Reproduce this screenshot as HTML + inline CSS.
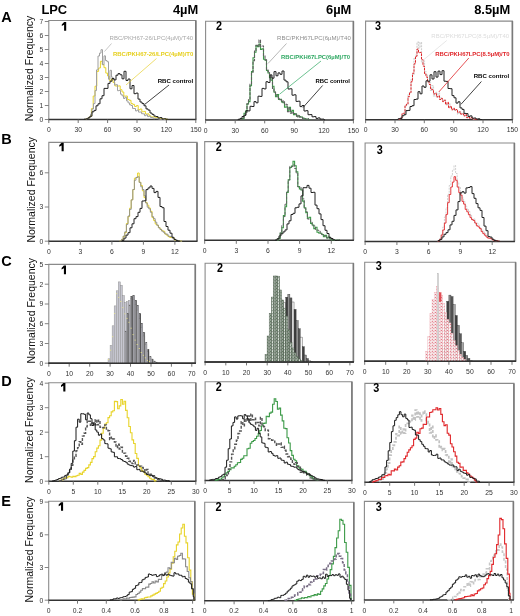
<!DOCTYPE html><html><head><meta charset="utf-8"><style>html,body{margin:0;padding:0;background:#fff;width:520px;height:616px;overflow:hidden}svg{display:block;filter:blur(0.3px)}</style></head><body><svg width="520" height="616" viewBox="0 0 520 616"><style>.tl{font-family:"Liberation Sans",sans-serif;font-size:6.8px;fill:#333}.yl{font-family:"Liberation Sans",sans-serif;font-size:10.5px;fill:#111}.rl{font-family:"Liberation Sans",sans-serif;font-size:14.5px;font-weight:bold;fill:#000}.pn{font-family:"Liberation Sans",sans-serif;font-size:13.6px;font-weight:bold;fill:#000}.lab{font-family:"Liberation Sans",sans-serif;font-size:6.05px}</style><rect width="520" height="616" fill="#fff"/><path d="M48.8,119.5 V20.5 H195.8 V119.5" fill="none" stroke="#8a8a8a" stroke-width="1.1"/><line x1="195.8" y1="20.5" x2="195.8" y2="119.5" stroke="#7a7a7a" stroke-width="1.6"/><line x1="48.3" y1="119.5" x2="196.3" y2="119.5" stroke="#333" stroke-width="1.5"/><line x1="48.8" y1="119.5" x2="48.8" y2="123.0" stroke="#666" stroke-width="0.9"/><text x="48.8" y="132.1" class="tl" text-anchor="middle">0</text><line x1="78.2" y1="119.5" x2="78.2" y2="123.0" stroke="#666" stroke-width="0.9"/><text x="78.2" y="132.1" class="tl" text-anchor="middle">30</text><line x1="107.6" y1="119.5" x2="107.6" y2="123.0" stroke="#666" stroke-width="0.9"/><text x="107.6" y="132.1" class="tl" text-anchor="middle">60</text><line x1="137.0" y1="119.5" x2="137.0" y2="123.0" stroke="#666" stroke-width="0.9"/><text x="137.0" y="132.1" class="tl" text-anchor="middle">90</text><line x1="166.4" y1="119.5" x2="166.4" y2="123.0" stroke="#666" stroke-width="0.9"/><text x="166.4" y="132.1" class="tl" text-anchor="middle">120</text><line x1="195.8" y1="119.5" x2="195.8" y2="123.0" stroke="#666" stroke-width="0.9"/><text x="195.8" y="132.1" class="tl" text-anchor="middle">150</text><line x1="44.8" y1="119.5" x2="48.8" y2="119.5" stroke="#777" stroke-width="0.9"/><text x="43.3" y="121.8" class="tl" text-anchor="end">0</text><line x1="44.8" y1="105.5" x2="48.8" y2="105.5" stroke="#777" stroke-width="0.9"/><text x="43.3" y="107.8" class="tl" text-anchor="end">1</text><line x1="44.8" y1="91.5" x2="48.8" y2="91.5" stroke="#777" stroke-width="0.9"/><text x="43.3" y="93.8" class="tl" text-anchor="end">2</text><line x1="44.8" y1="77.5" x2="48.8" y2="77.5" stroke="#777" stroke-width="0.9"/><text x="43.3" y="79.8" class="tl" text-anchor="end">3</text><line x1="44.8" y1="63.5" x2="48.8" y2="63.5" stroke="#777" stroke-width="0.9"/><text x="43.3" y="65.8" class="tl" text-anchor="end">4</text><line x1="44.8" y1="49.5" x2="48.8" y2="49.5" stroke="#777" stroke-width="0.9"/><text x="43.3" y="51.8" class="tl" text-anchor="end">5</text><line x1="44.8" y1="35.5" x2="48.8" y2="35.5" stroke="#777" stroke-width="0.9"/><text x="43.3" y="37.8" class="tl" text-anchor="end">6</text><line x1="44.8" y1="21.5" x2="48.8" y2="21.5" stroke="#777" stroke-width="0.9"/><text x="43.3" y="23.8" class="tl" text-anchor="end">7</text><path d="M205.6,119.9 V21.2 H353.4 V119.9" fill="none" stroke="#8a8a8a" stroke-width="1.1"/><line x1="353.4" y1="21.2" x2="353.4" y2="119.9" stroke="#7a7a7a" stroke-width="1.6"/><line x1="205.1" y1="119.9" x2="353.9" y2="119.9" stroke="#333" stroke-width="1.5"/><line x1="205.6" y1="119.9" x2="205.6" y2="123.4" stroke="#666" stroke-width="0.9"/><text x="205.6" y="132.5" class="tl" text-anchor="middle">0</text><line x1="235.2" y1="119.9" x2="235.2" y2="123.4" stroke="#666" stroke-width="0.9"/><text x="235.2" y="132.5" class="tl" text-anchor="middle">30</text><line x1="264.7" y1="119.9" x2="264.7" y2="123.4" stroke="#666" stroke-width="0.9"/><text x="264.7" y="132.5" class="tl" text-anchor="middle">60</text><line x1="294.3" y1="119.9" x2="294.3" y2="123.4" stroke="#666" stroke-width="0.9"/><text x="294.3" y="132.5" class="tl" text-anchor="middle">90</text><line x1="323.8" y1="119.9" x2="323.8" y2="123.4" stroke="#666" stroke-width="0.9"/><text x="323.8" y="132.5" class="tl" text-anchor="middle">120</text><line x1="353.4" y1="119.9" x2="353.4" y2="123.4" stroke="#666" stroke-width="0.9"/><text x="353.4" y="132.5" class="tl" text-anchor="middle">150</text><path d="M365.6,119.7 V21.1 H512.4 V119.7" fill="none" stroke="#8a8a8a" stroke-width="1.1"/><line x1="512.4" y1="21.1" x2="512.4" y2="119.7" stroke="#7a7a7a" stroke-width="1.6"/><line x1="365.1" y1="119.7" x2="512.9" y2="119.7" stroke="#333" stroke-width="1.5"/><line x1="365.6" y1="119.7" x2="365.6" y2="123.2" stroke="#666" stroke-width="0.9"/><text x="365.6" y="132.3" class="tl" text-anchor="middle">0</text><line x1="395.0" y1="119.7" x2="395.0" y2="123.2" stroke="#666" stroke-width="0.9"/><text x="395.0" y="132.3" class="tl" text-anchor="middle">30</text><line x1="424.3" y1="119.7" x2="424.3" y2="123.2" stroke="#666" stroke-width="0.9"/><text x="424.3" y="132.3" class="tl" text-anchor="middle">60</text><line x1="453.7" y1="119.7" x2="453.7" y2="123.2" stroke="#666" stroke-width="0.9"/><text x="453.7" y="132.3" class="tl" text-anchor="middle">90</text><line x1="483.0" y1="119.7" x2="483.0" y2="123.2" stroke="#666" stroke-width="0.9"/><text x="483.0" y="132.3" class="tl" text-anchor="middle">120</text><line x1="512.4" y1="119.7" x2="512.4" y2="123.2" stroke="#666" stroke-width="0.9"/><text x="512.4" y="132.3" class="tl" text-anchor="middle">150</text><path d="M48.8,241.2 V142.4 H197.0 V241.2" fill="none" stroke="#8a8a8a" stroke-width="1.1"/><line x1="197.0" y1="142.4" x2="197.0" y2="241.2" stroke="#7a7a7a" stroke-width="1.6"/><line x1="48.3" y1="241.2" x2="197.5" y2="241.2" stroke="#333" stroke-width="1.5"/><line x1="48.8" y1="241.2" x2="48.8" y2="244.7" stroke="#666" stroke-width="0.9"/><text x="48.8" y="253.8" class="tl" text-anchor="middle">0</text><line x1="80.3" y1="241.2" x2="80.3" y2="244.7" stroke="#666" stroke-width="0.9"/><text x="80.3" y="253.8" class="tl" text-anchor="middle">3</text><line x1="111.9" y1="241.2" x2="111.9" y2="244.7" stroke="#666" stroke-width="0.9"/><text x="111.9" y="253.8" class="tl" text-anchor="middle">6</text><line x1="143.4" y1="241.2" x2="143.4" y2="244.7" stroke="#666" stroke-width="0.9"/><text x="143.4" y="253.8" class="tl" text-anchor="middle">9</text><line x1="174.9" y1="241.2" x2="174.9" y2="244.7" stroke="#666" stroke-width="0.9"/><text x="174.9" y="253.8" class="tl" text-anchor="middle">12</text><line x1="44.8" y1="241.2" x2="48.8" y2="241.2" stroke="#777" stroke-width="0.9"/><text x="43.3" y="243.5" class="tl" text-anchor="end">0</text><line x1="44.8" y1="207.0" x2="48.8" y2="207.0" stroke="#777" stroke-width="0.9"/><text x="43.3" y="209.3" class="tl" text-anchor="end">3</text><line x1="44.8" y1="172.8" x2="48.8" y2="172.8" stroke="#777" stroke-width="0.9"/><text x="43.3" y="175.1" class="tl" text-anchor="end">6</text><path d="M204.7,240.3 V141.6 H353.4 V240.3" fill="none" stroke="#8a8a8a" stroke-width="1.1"/><line x1="353.4" y1="141.6" x2="353.4" y2="240.3" stroke="#7a7a7a" stroke-width="1.6"/><line x1="204.2" y1="240.3" x2="353.9" y2="240.3" stroke="#333" stroke-width="1.5"/><line x1="204.7" y1="240.3" x2="204.7" y2="243.8" stroke="#666" stroke-width="0.9"/><text x="204.7" y="252.9" class="tl" text-anchor="middle">0</text><line x1="236.3" y1="240.3" x2="236.3" y2="243.8" stroke="#666" stroke-width="0.9"/><text x="236.3" y="252.9" class="tl" text-anchor="middle">3</text><line x1="268.0" y1="240.3" x2="268.0" y2="243.8" stroke="#666" stroke-width="0.9"/><text x="268.0" y="252.9" class="tl" text-anchor="middle">6</text><line x1="299.6" y1="240.3" x2="299.6" y2="243.8" stroke="#666" stroke-width="0.9"/><text x="299.6" y="252.9" class="tl" text-anchor="middle">9</text><line x1="331.3" y1="240.3" x2="331.3" y2="243.8" stroke="#666" stroke-width="0.9"/><text x="331.3" y="252.9" class="tl" text-anchor="middle">12</text><path d="M365.1,241.5 V143.0 H514.4 V241.5" fill="none" stroke="#8a8a8a" stroke-width="1.1"/><line x1="514.4" y1="143.0" x2="514.4" y2="241.5" stroke="#7a7a7a" stroke-width="1.6"/><line x1="364.6" y1="241.5" x2="514.9" y2="241.5" stroke="#333" stroke-width="1.5"/><line x1="365.1" y1="241.5" x2="365.1" y2="245.0" stroke="#666" stroke-width="0.9"/><text x="365.1" y="254.1" class="tl" text-anchor="middle">0</text><line x1="396.9" y1="241.5" x2="396.9" y2="245.0" stroke="#666" stroke-width="0.9"/><text x="396.9" y="254.1" class="tl" text-anchor="middle">3</text><line x1="428.6" y1="241.5" x2="428.6" y2="245.0" stroke="#666" stroke-width="0.9"/><text x="428.6" y="254.1" class="tl" text-anchor="middle">6</text><line x1="460.4" y1="241.5" x2="460.4" y2="245.0" stroke="#666" stroke-width="0.9"/><text x="460.4" y="254.1" class="tl" text-anchor="middle">9</text><line x1="492.2" y1="241.5" x2="492.2" y2="245.0" stroke="#666" stroke-width="0.9"/><text x="492.2" y="254.1" class="tl" text-anchor="middle">12</text><path d="M48.8,363.2 V264.4 H195.3 V363.2" fill="none" stroke="#8a8a8a" stroke-width="1.1"/><line x1="195.3" y1="264.4" x2="195.3" y2="363.2" stroke="#7a7a7a" stroke-width="1.6"/><line x1="48.3" y1="363.2" x2="195.8" y2="363.2" stroke="#333" stroke-width="1.5"/><line x1="48.8" y1="363.2" x2="48.8" y2="366.7" stroke="#666" stroke-width="0.9"/><text x="48.8" y="375.8" class="tl" text-anchor="middle">0</text><line x1="69.2" y1="363.2" x2="69.2" y2="366.7" stroke="#666" stroke-width="0.9"/><text x="69.2" y="375.8" class="tl" text-anchor="middle">10</text><line x1="89.7" y1="363.2" x2="89.7" y2="366.7" stroke="#666" stroke-width="0.9"/><text x="89.7" y="375.8" class="tl" text-anchor="middle">20</text><line x1="110.1" y1="363.2" x2="110.1" y2="366.7" stroke="#666" stroke-width="0.9"/><text x="110.1" y="375.8" class="tl" text-anchor="middle">30</text><line x1="130.5" y1="363.2" x2="130.5" y2="366.7" stroke="#666" stroke-width="0.9"/><text x="130.5" y="375.8" class="tl" text-anchor="middle">40</text><line x1="151.0" y1="363.2" x2="151.0" y2="366.7" stroke="#666" stroke-width="0.9"/><text x="151.0" y="375.8" class="tl" text-anchor="middle">50</text><line x1="171.4" y1="363.2" x2="171.4" y2="366.7" stroke="#666" stroke-width="0.9"/><text x="171.4" y="375.8" class="tl" text-anchor="middle">60</text><line x1="191.8" y1="363.2" x2="191.8" y2="366.7" stroke="#666" stroke-width="0.9"/><text x="191.8" y="375.8" class="tl" text-anchor="middle">70</text><line x1="44.8" y1="363.2" x2="48.8" y2="363.2" stroke="#777" stroke-width="0.9"/><text x="43.3" y="365.5" class="tl" text-anchor="end">0</text><line x1="44.8" y1="343.5" x2="48.8" y2="343.5" stroke="#777" stroke-width="0.9"/><text x="43.3" y="345.8" class="tl" text-anchor="end">3</text><line x1="44.8" y1="323.7" x2="48.8" y2="323.7" stroke="#777" stroke-width="0.9"/><text x="43.3" y="326.0" class="tl" text-anchor="end">6</text><line x1="44.8" y1="304.0" x2="48.8" y2="304.0" stroke="#777" stroke-width="0.9"/><text x="43.3" y="306.3" class="tl" text-anchor="end">9</text><line x1="44.8" y1="284.2" x2="48.8" y2="284.2" stroke="#777" stroke-width="0.9"/><text x="43.3" y="286.5" class="tl" text-anchor="end">2</text><line x1="44.8" y1="264.5" x2="48.8" y2="264.5" stroke="#777" stroke-width="0.9"/><text x="43.3" y="266.8" class="tl" text-anchor="end">5</text><path d="M205.1,361.9 V263.2 H353.4 V361.9" fill="none" stroke="#8a8a8a" stroke-width="1.1"/><line x1="353.4" y1="263.2" x2="353.4" y2="361.9" stroke="#7a7a7a" stroke-width="1.6"/><line x1="204.6" y1="361.9" x2="353.9" y2="361.9" stroke="#333" stroke-width="1.5"/><line x1="205.1" y1="361.9" x2="205.1" y2="365.4" stroke="#666" stroke-width="0.9"/><text x="205.1" y="374.5" class="tl" text-anchor="middle">0</text><line x1="225.8" y1="361.9" x2="225.8" y2="365.4" stroke="#666" stroke-width="0.9"/><text x="225.8" y="374.5" class="tl" text-anchor="middle">10</text><line x1="246.5" y1="361.9" x2="246.5" y2="365.4" stroke="#666" stroke-width="0.9"/><text x="246.5" y="374.5" class="tl" text-anchor="middle">20</text><line x1="267.2" y1="361.9" x2="267.2" y2="365.4" stroke="#666" stroke-width="0.9"/><text x="267.2" y="374.5" class="tl" text-anchor="middle">30</text><line x1="287.8" y1="361.9" x2="287.8" y2="365.4" stroke="#666" stroke-width="0.9"/><text x="287.8" y="374.5" class="tl" text-anchor="middle">40</text><line x1="308.5" y1="361.9" x2="308.5" y2="365.4" stroke="#666" stroke-width="0.9"/><text x="308.5" y="374.5" class="tl" text-anchor="middle">50</text><line x1="329.2" y1="361.9" x2="329.2" y2="365.4" stroke="#666" stroke-width="0.9"/><text x="329.2" y="374.5" class="tl" text-anchor="middle">60</text><line x1="349.9" y1="361.9" x2="349.9" y2="365.4" stroke="#666" stroke-width="0.9"/><text x="349.9" y="374.5" class="tl" text-anchor="middle">70</text><path d="M364.7,361.3 V262.3 H515.6 V361.3" fill="none" stroke="#8a8a8a" stroke-width="1.1"/><line x1="515.6" y1="262.3" x2="515.6" y2="361.3" stroke="#7a7a7a" stroke-width="1.6"/><line x1="364.2" y1="361.3" x2="516.1" y2="361.3" stroke="#333" stroke-width="1.5"/><line x1="364.7" y1="361.3" x2="364.7" y2="364.8" stroke="#666" stroke-width="0.9"/><text x="364.7" y="373.9" class="tl" text-anchor="middle">0</text><line x1="385.7" y1="361.3" x2="385.7" y2="364.8" stroke="#666" stroke-width="0.9"/><text x="385.7" y="373.9" class="tl" text-anchor="middle">10</text><line x1="406.8" y1="361.3" x2="406.8" y2="364.8" stroke="#666" stroke-width="0.9"/><text x="406.8" y="373.9" class="tl" text-anchor="middle">20</text><line x1="427.8" y1="361.3" x2="427.8" y2="364.8" stroke="#666" stroke-width="0.9"/><text x="427.8" y="373.9" class="tl" text-anchor="middle">30</text><line x1="448.9" y1="361.3" x2="448.9" y2="364.8" stroke="#666" stroke-width="0.9"/><text x="448.9" y="373.9" class="tl" text-anchor="middle">40</text><line x1="469.9" y1="361.3" x2="469.9" y2="364.8" stroke="#666" stroke-width="0.9"/><text x="469.9" y="373.9" class="tl" text-anchor="middle">50</text><line x1="491.0" y1="361.3" x2="491.0" y2="364.8" stroke="#666" stroke-width="0.9"/><text x="491.0" y="373.9" class="tl" text-anchor="middle">60</text><line x1="512.0" y1="361.3" x2="512.0" y2="364.8" stroke="#666" stroke-width="0.9"/><text x="512.0" y="373.9" class="tl" text-anchor="middle">70</text><path d="M48.8,481.2 V382.8 H195.8 V481.2" fill="none" stroke="#8a8a8a" stroke-width="1.1"/><line x1="195.8" y1="382.8" x2="195.8" y2="481.2" stroke="#7a7a7a" stroke-width="1.6"/><line x1="48.3" y1="481.2" x2="196.3" y2="481.2" stroke="#333" stroke-width="1.5"/><line x1="48.8" y1="481.2" x2="48.8" y2="484.7" stroke="#666" stroke-width="0.9"/><text x="48.8" y="493.8" class="tl" text-anchor="middle">0</text><line x1="73.3" y1="481.2" x2="73.3" y2="484.7" stroke="#666" stroke-width="0.9"/><text x="73.3" y="493.8" class="tl" text-anchor="middle">5</text><line x1="97.8" y1="481.2" x2="97.8" y2="484.7" stroke="#666" stroke-width="0.9"/><text x="97.8" y="493.8" class="tl" text-anchor="middle">10</text><line x1="122.3" y1="481.2" x2="122.3" y2="484.7" stroke="#666" stroke-width="0.9"/><text x="122.3" y="493.8" class="tl" text-anchor="middle">15</text><line x1="146.8" y1="481.2" x2="146.8" y2="484.7" stroke="#666" stroke-width="0.9"/><text x="146.8" y="493.8" class="tl" text-anchor="middle">20</text><line x1="171.3" y1="481.2" x2="171.3" y2="484.7" stroke="#666" stroke-width="0.9"/><text x="171.3" y="493.8" class="tl" text-anchor="middle">25</text><line x1="195.8" y1="481.2" x2="195.8" y2="484.7" stroke="#666" stroke-width="0.9"/><text x="195.8" y="493.8" class="tl" text-anchor="middle">30</text><line x1="44.8" y1="481.2" x2="48.8" y2="481.2" stroke="#777" stroke-width="0.9"/><text x="43.3" y="483.5" class="tl" text-anchor="end">0</text><line x1="44.8" y1="456.7" x2="48.8" y2="456.7" stroke="#777" stroke-width="0.9"/><text x="43.3" y="459.0" class="tl" text-anchor="end">1</text><line x1="44.8" y1="432.2" x2="48.8" y2="432.2" stroke="#777" stroke-width="0.9"/><text x="43.3" y="434.5" class="tl" text-anchor="end">2</text><line x1="44.8" y1="407.7" x2="48.8" y2="407.7" stroke="#777" stroke-width="0.9"/><text x="43.3" y="410.0" class="tl" text-anchor="end">3</text><line x1="44.8" y1="383.2" x2="48.8" y2="383.2" stroke="#777" stroke-width="0.9"/><text x="43.3" y="385.5" class="tl" text-anchor="end">4</text><path d="M205.1,480.4 V381.7 H351.9 V480.4" fill="none" stroke="#8a8a8a" stroke-width="1.1"/><line x1="351.9" y1="381.7" x2="351.9" y2="480.4" stroke="#7a7a7a" stroke-width="1.6"/><line x1="204.6" y1="480.4" x2="352.4" y2="480.4" stroke="#333" stroke-width="1.5"/><line x1="205.1" y1="480.4" x2="205.1" y2="483.9" stroke="#666" stroke-width="0.9"/><text x="205.1" y="493.0" class="tl" text-anchor="middle">0</text><line x1="229.6" y1="480.4" x2="229.6" y2="483.9" stroke="#666" stroke-width="0.9"/><text x="229.6" y="493.0" class="tl" text-anchor="middle">5</text><line x1="254.0" y1="480.4" x2="254.0" y2="483.9" stroke="#666" stroke-width="0.9"/><text x="254.0" y="493.0" class="tl" text-anchor="middle">10</text><line x1="278.5" y1="480.4" x2="278.5" y2="483.9" stroke="#666" stroke-width="0.9"/><text x="278.5" y="493.0" class="tl" text-anchor="middle">15</text><line x1="303.0" y1="480.4" x2="303.0" y2="483.9" stroke="#666" stroke-width="0.9"/><text x="303.0" y="493.0" class="tl" text-anchor="middle">20</text><line x1="327.4" y1="480.4" x2="327.4" y2="483.9" stroke="#666" stroke-width="0.9"/><text x="327.4" y="493.0" class="tl" text-anchor="middle">25</text><line x1="351.9" y1="480.4" x2="351.9" y2="483.9" stroke="#666" stroke-width="0.9"/><text x="351.9" y="493.0" class="tl" text-anchor="middle">30</text><path d="M364.9,482.3 V383.4 H513.9 V482.3" fill="none" stroke="#8a8a8a" stroke-width="1.1"/><line x1="513.9" y1="383.4" x2="513.9" y2="482.3" stroke="#7a7a7a" stroke-width="1.6"/><line x1="364.4" y1="482.3" x2="514.4" y2="482.3" stroke="#333" stroke-width="1.5"/><line x1="364.9" y1="482.3" x2="364.9" y2="485.8" stroke="#666" stroke-width="0.9"/><text x="364.9" y="494.9" class="tl" text-anchor="middle">0</text><line x1="389.7" y1="482.3" x2="389.7" y2="485.8" stroke="#666" stroke-width="0.9"/><text x="389.7" y="494.9" class="tl" text-anchor="middle">5</text><line x1="414.6" y1="482.3" x2="414.6" y2="485.8" stroke="#666" stroke-width="0.9"/><text x="414.6" y="494.9" class="tl" text-anchor="middle">10</text><line x1="439.4" y1="482.3" x2="439.4" y2="485.8" stroke="#666" stroke-width="0.9"/><text x="439.4" y="494.9" class="tl" text-anchor="middle">15</text><line x1="464.2" y1="482.3" x2="464.2" y2="485.8" stroke="#666" stroke-width="0.9"/><text x="464.2" y="494.9" class="tl" text-anchor="middle">20</text><line x1="489.1" y1="482.3" x2="489.1" y2="485.8" stroke="#666" stroke-width="0.9"/><text x="489.1" y="494.9" class="tl" text-anchor="middle">25</text><line x1="513.9" y1="482.3" x2="513.9" y2="485.8" stroke="#666" stroke-width="0.9"/><text x="513.9" y="494.9" class="tl" text-anchor="middle">30</text><path d="M48.7,600.2 V501.2 H194.8 V600.2" fill="none" stroke="#8a8a8a" stroke-width="1.1"/><line x1="194.8" y1="501.2" x2="194.8" y2="600.2" stroke="#7a7a7a" stroke-width="1.6"/><line x1="48.2" y1="600.2" x2="195.3" y2="600.2" stroke="#333" stroke-width="1.5"/><line x1="48.7" y1="600.2" x2="48.7" y2="603.7" stroke="#666" stroke-width="0.9"/><text x="48.7" y="612.8" class="tl" text-anchor="middle">0</text><line x1="77.5" y1="600.2" x2="77.5" y2="603.7" stroke="#666" stroke-width="0.9"/><text x="77.5" y="612.8" class="tl" text-anchor="middle">0.2</text><line x1="106.3" y1="600.2" x2="106.3" y2="603.7" stroke="#666" stroke-width="0.9"/><text x="106.3" y="612.8" class="tl" text-anchor="middle">0.4</text><line x1="135.1" y1="600.2" x2="135.1" y2="603.7" stroke="#666" stroke-width="0.9"/><text x="135.1" y="612.8" class="tl" text-anchor="middle">0.6</text><line x1="163.9" y1="600.2" x2="163.9" y2="603.7" stroke="#666" stroke-width="0.9"/><text x="163.9" y="612.8" class="tl" text-anchor="middle">0.8</text><line x1="192.6" y1="600.2" x2="192.6" y2="603.7" stroke="#666" stroke-width="0.9"/><text x="192.6" y="612.8" class="tl" text-anchor="middle">1</text><line x1="44.7" y1="600.2" x2="48.7" y2="600.2" stroke="#777" stroke-width="0.9"/><text x="43.2" y="602.5" class="tl" text-anchor="end">0</text><line x1="44.7" y1="567.5" x2="48.7" y2="567.5" stroke="#777" stroke-width="0.9"/><text x="43.2" y="569.8" class="tl" text-anchor="end">3</text><line x1="44.7" y1="534.8" x2="48.7" y2="534.8" stroke="#777" stroke-width="0.9"/><text x="43.2" y="537.1" class="tl" text-anchor="end">6</text><line x1="44.7" y1="502.1" x2="48.7" y2="502.1" stroke="#777" stroke-width="0.9"/><text x="43.2" y="504.4" class="tl" text-anchor="end">9</text><path d="M204.7,600.8 V502.2 H353.8 V600.8" fill="none" stroke="#8a8a8a" stroke-width="1.1"/><line x1="353.8" y1="502.2" x2="353.8" y2="600.8" stroke="#7a7a7a" stroke-width="1.6"/><line x1="204.2" y1="600.8" x2="354.3" y2="600.8" stroke="#333" stroke-width="1.5"/><line x1="204.7" y1="600.8" x2="204.7" y2="604.3" stroke="#666" stroke-width="0.9"/><text x="204.7" y="613.4" class="tl" text-anchor="middle">0</text><line x1="234.1" y1="600.8" x2="234.1" y2="604.3" stroke="#666" stroke-width="0.9"/><text x="234.1" y="613.4" class="tl" text-anchor="middle">0.2</text><line x1="263.5" y1="600.8" x2="263.5" y2="604.3" stroke="#666" stroke-width="0.9"/><text x="263.5" y="613.4" class="tl" text-anchor="middle">0.4</text><line x1="292.8" y1="600.8" x2="292.8" y2="604.3" stroke="#666" stroke-width="0.9"/><text x="292.8" y="613.4" class="tl" text-anchor="middle">0.6</text><line x1="322.2" y1="600.8" x2="322.2" y2="604.3" stroke="#666" stroke-width="0.9"/><text x="322.2" y="613.4" class="tl" text-anchor="middle">0.8</text><line x1="351.6" y1="600.8" x2="351.6" y2="604.3" stroke="#666" stroke-width="0.9"/><text x="351.6" y="613.4" class="tl" text-anchor="middle">1</text><path d="M364.4,599.9 V501.4 H513.4 V599.9" fill="none" stroke="#8a8a8a" stroke-width="1.1"/><line x1="513.4" y1="501.4" x2="513.4" y2="599.9" stroke="#7a7a7a" stroke-width="1.6"/><line x1="363.9" y1="599.9" x2="513.9" y2="599.9" stroke="#333" stroke-width="1.5"/><line x1="364.4" y1="599.9" x2="364.4" y2="603.4" stroke="#666" stroke-width="0.9"/><text x="364.4" y="612.5" class="tl" text-anchor="middle">0</text><line x1="393.8" y1="599.9" x2="393.8" y2="603.4" stroke="#666" stroke-width="0.9"/><text x="393.8" y="612.5" class="tl" text-anchor="middle">0.2</text><line x1="423.1" y1="599.9" x2="423.1" y2="603.4" stroke="#666" stroke-width="0.9"/><text x="423.1" y="612.5" class="tl" text-anchor="middle">0.4</text><line x1="452.5" y1="599.9" x2="452.5" y2="603.4" stroke="#666" stroke-width="0.9"/><text x="452.5" y="612.5" class="tl" text-anchor="middle">0.6</text><line x1="481.8" y1="599.9" x2="481.8" y2="603.4" stroke="#666" stroke-width="0.9"/><text x="481.8" y="612.5" class="tl" text-anchor="middle">0.8</text><line x1="511.2" y1="599.9" x2="511.2" y2="603.4" stroke="#666" stroke-width="0.9"/><text x="511.2" y="612.5" class="tl" text-anchor="middle">1</text><path d="M86.0,119.5V118.6H87.8V117.9H89.6V116.4H91.4V108.6H93.2V96.0H95.0V86.2H96.8V71.4H98.6V68.0H100.4V61.3H102.2V64.6H104.0V67.7H105.8V73.1H107.6V76.0H109.4V80.5H111.2V79.0H113.0V82.4H114.8V85.9H116.6V86.2H118.4V85.9H120.2V89.7H122.0V92.0H123.8V96.1H125.6V96.0H127.4V99.5H129.2V100.3H131.0V103.6H132.8V104.4H134.6V106.5H136.4V105.6H138.2V109.8H140.0V109.0H141.8V111.8H143.6V111.4H145.4V114.0H147.2V113.9H149.0V115.8H150.8V117.0H152.6V116.8H154.4V117.2H156.2V117.6H158.0V117.9H159.8V118.7H161.6V118.5H163.4V119.1H165.2V119.2H167.0V119.4H168.0V119.5" fill="none" stroke="#e8d42a" stroke-width="1.0" stroke-opacity="1.0"/><path d="M86.0,119.5V118.7H87.5V118.4H89.0V116.8H90.5V114.2H92.0V109.0H93.5V103.6H95.0V90.6H96.5V69.9H98.0V56.0H99.5V53.1H101.0V49.7H102.5V64.7H104.0V55.9H105.5V60.5H107.0V61.7H108.5V79.2H110.0V70.3H111.5V77.2H113.0V79.2H114.5V84.9H116.0V84.7H117.5V90.7H119.0V90.4H120.5V94.2H122.0V95.8H123.5V98.5H125.0V97.2H126.5V100.9H128.0V102.8H129.5V104.8H131.0V105.5H132.5V108.4H134.0V108.5H135.5V110.9H137.0V110.1H138.5V112.1H140.0V112.0H141.5V113.7H143.0V113.9H144.5V115.7H146.0V114.8H147.5V116.6H149.0V116.2H150.5V117.5H152.0V117.7H153.5V118.7H155.0V118.4H156.5V118.6H158.0V118.9H159.5V119.2H161.0V119.2H162.5V119.3H164.0V119.5H165.0V119.5" fill="none" stroke="#a0a0a0" stroke-width="1.0" stroke-opacity="1.0"/><path d="M84.0,119.5V119.2H86.0V118.9H88.0V117.8H90.0V116.2H92.0V111.8H94.0V110.4H96.0V105.8H98.0V103.8H100.0V98.8H102.0V95.7H104.0V88.4H106.0V88.4H108.0V83.4H110.0V81.2H112.0V78.5H114.0V79.9H116.0V75.2H118.0V73.6H120.0V74.8H122.0V78.8H124.0V71.3H126.0V80.5H128.0V79.0H130.0V88.8H132.0V85.5H134.0V93.7H136.0V93.1H138.0V99.1H140.0V102.0H142.0V103.6H144.0V105.8H146.0V108.9H148.0V110.1H150.0V113.0H152.0V114.4H154.0V116.1H156.0V116.5H158.0V118.0H160.0V117.6H162.0V119.0H164.0V118.8H166.0V119.3H168.0V119.5" fill="none" stroke="#222" stroke-width="1.0" stroke-opacity="1.0"/><path d="M241.0,119.9V119.1H242.5V118.6H244.0V113.3H245.5V111.1H247.0V104.0H248.5V101.6H250.0V85.8H251.5V71.6H253.0V57.7H254.5V52.2H256.0V45.6H257.5V46.7H259.0V44.1H260.5V49.4H262.0V48.7H263.5V59.3H265.0V60.2H266.5V70.5H268.0V73.0H269.5V77.7H271.0V80.2H272.5V86.2H274.0V92.3H275.5V96.7H277.0V94.5H278.5V99.5H280.0V99.3H281.5V101.9H283.0V102.7H284.5V107.3H286.0V106.9H287.5V110.8H289.0V107.4H290.5V111.9H292.0V110.4H293.5V114.6H295.0V113.7H296.5V116.1H298.0V115.7H299.5V116.9H301.0V117.0H302.5V118.0H304.0V118.7H305.5V119.0H307.0V119.0H308.5V119.7H310.0V119.9" fill="none" stroke="#3c9a48" stroke-width="1.1" stroke-opacity="1.0"/><path d="M241.0,119.9V119.1H242.5V117.9H244.0V116.3H245.5V112.3H247.0V103.8H248.5V99.8H250.0V84.2H251.5V72.3H253.0V60.7H254.5V51.1H256.0V45.3H257.5V46.1H259.0V40.1H260.5V46.4H262.0V46.0H263.5V56.1H265.0V59.9H266.5V69.2H268.0V71.6H269.5V75.9H271.0V77.9H272.5V89.0H274.0V92.1H275.5V94.9H277.0V97.6H278.5V98.6H280.0V99.7H281.5V101.9H283.0V100.8H284.5V104.0H286.0V104.9H287.5V111.7H289.0V108.0H290.5V113.1H292.0V112.1H293.5V113.5H295.0V114.5H296.5V116.9H298.0V115.2H299.5V116.9H301.0V117.5H302.5V118.5H304.0V118.8H305.5V119.2H307.0V118.7H308.5V119.7H310.0V119.9" fill="none" stroke="#5e5e5e" stroke-width="1.1" stroke-opacity="1.0" stroke-dasharray="3,1.2"/><path d="M238.0,119.9V119.3H240.0V118.4H242.0V116.5H244.0V115.2H246.0V110.7H248.0V110.9H250.0V106.3H252.0V106.5H254.0V101.6H256.0V102.8H258.0V96.2H260.0V96.4H262.0V88.4H264.0V88.9H266.0V81.7H268.0V82.5H270.0V74.9H272.0V78.2H274.0V71.6H276.0V75.8H278.0V72.9H280.0V74.3H282.0V71.0H284.0V80.1H286.0V81.8H288.0V89.0H290.0V88.8H292.0V95.2H294.0V94.8H296.0V101.4H298.0V101.2H300.0V106.6H302.0V105.5H304.0V111.0H306.0V110.7H308.0V114.7H310.0V114.6H312.0V116.8H314.0V116.6H316.0V118.4H318.0V117.9H320.0V119.1H322.0V119.1H324.0V119.8H325.0V119.9" fill="none" stroke="#222" stroke-width="1.0" stroke-opacity="1.0"/><path d="M399.0,119.7V118.9H400.5V118.1H402.0V114.0H403.5V113.3H405.0V106.7H406.5V104.1H408.0V95.0H409.5V92.7H411.0V79.8H412.5V74.9H414.0V58.7H415.5V55.2H417.0V42.2H418.5V48.1H420.0V42.6H421.5V62.8H423.0V61.1H424.5V71.9H426.0V75.2H427.5V81.9H429.0V82.7H430.5V90.3H432.0V85.7H433.5V95.9H435.0V92.3H436.5V97.1H438.0V93.2H439.5V97.9H441.0V99.5H442.5V101.0H444.0V100.0H445.5V104.8H447.0V104.5H448.5V104.1H450.0V107.0H451.5V109.1H453.0V108.8H454.5V110.3H456.0V110.4H457.5V114.0H459.0V112.0H460.5V114.0H462.0V113.4H463.5V115.5H465.0V115.7H466.5V117.2H468.0V116.4H469.5V118.5H471.0V117.7H472.5V118.9H474.0V119.5H475.0V119.7" fill="none" stroke="#d0d0d0" stroke-width="1.2" stroke-opacity="1.0" stroke-dasharray="2,1"/><path d="M399.0,119.7V119.0H400.5V118.0H402.0V113.6H403.5V113.2H405.0V105.3H406.5V104.1H408.0V96.7H409.5V92.7H411.0V81.7H412.5V73.2H414.0V63.8H415.5V56.3H417.0V49.1H418.5V52.7H420.0V52.4H421.5V59.5H423.0V66.1H424.5V73.9H426.0V77.0H427.5V81.2H429.0V84.5H430.5V89.2H432.0V89.7H433.5V94.0H435.0V93.4H436.5V96.8H438.0V95.8H439.5V99.5H441.0V98.4H442.5V101.6H444.0V100.2H445.5V104.2H447.0V102.3H448.5V107.8H450.0V106.3H451.5V109.8H453.0V108.3H454.5V110.1H456.0V109.5H457.5V112.4H459.0V111.9H460.5V114.1H462.0V113.6H463.5V115.9H465.0V114.4H466.5V117.7H468.0V116.9H469.5V118.4H471.0V117.7H472.5V119.0H474.0V118.6H475.5V119.5H477.0V119.6H478.0V119.7" fill="none" stroke="#e0262a" stroke-width="1.0" stroke-opacity="1.0" stroke-dasharray="2.5,1"/><path d="M398.0,119.7V118.8H400.0V118.4H402.0V115.8H404.0V114.7H406.0V110.6H408.0V110.4H410.0V106.5H412.0V105.7H414.0V99.5H416.0V99.1H418.0V91.7H420.0V93.8H422.0V86.0H424.0V87.3H426.0V80.8H428.0V81.2H430.0V74.8H432.0V79.0H434.0V71.7H436.0V77.1H438.0V71.1H440.0V74.6H442.0V70.7H444.0V81.2H446.0V81.4H448.0V88.5H450.0V88.7H452.0V95.6H454.0V97.8H456.0V103.1H458.0V101.8H460.0V107.9H462.0V109.4H464.0V113.4H466.0V113.6H468.0V116.4H470.0V115.9H472.0V118.2H474.0V118.0H476.0V119.0H478.0V118.8H480.0V119.5H482.0V119.7" fill="none" stroke="#222" stroke-width="1.0" stroke-opacity="1.0"/><path d="M120.0,241.2V240.5H121.6V239.4H123.2V236.5H124.8V232.5H126.4V223.5H128.0V216.6H129.6V208.2H131.2V199.8H132.8V189.6H134.4V178.2H136.0V177.5H137.6V173.0H139.2V182.3H140.8V185.5H142.4V190.8H144.0V197.6H145.6V202.6H147.2V205.2H148.8V208.0H150.4V211.3H152.0V217.6H153.6V220.5H155.2V224.0H156.8V225.2H158.4V227.5H160.0V229.2H161.6V230.7H163.2V231.3H164.8V234.0H166.4V235.2H168.0V236.6H169.6V237.5H171.2V237.6H172.8V238.1H174.4V240.0H176.0V240.5H177.6V240.5H179.2V240.8H180.8V241.1H182.0V241.2" fill="none" stroke="#e8d42a" stroke-width="1.0" stroke-opacity="1.0"/><path d="M120.0,241.2V240.6H121.6V239.3H123.2V236.0H124.8V231.8H126.4V224.4H128.0V216.0H129.6V209.4H131.2V199.9H132.8V189.5H134.4V180.2H136.0V177.4H137.6V176.8H139.2V182.4H140.8V186.8H142.4V189.5H144.0V195.8H145.6V203.0H147.2V207.2H148.8V208.9H150.4V212.3H152.0V216.7H153.6V218.7H155.2V222.2H156.8V225.2H158.4V227.8H160.0V229.5H161.6V231.1H163.2V232.3H164.8V233.9H166.4V234.2H168.0V236.2H169.6V236.4H171.2V237.0H172.8V238.7H174.4V239.6H176.0V240.6H177.6V240.7H179.2V240.8H180.8V241.1H182.0V241.2" fill="none" stroke="#8c8c8c" stroke-width="0.9" stroke-opacity="1.0"/><path d="M122.0,241.2V240.4H124.0V238.1H126.0V235.1H128.0V232.7H130.0V227.8H132.0V223.8H134.0V218.7H136.0V216.6H138.0V212.3H140.0V208.4H142.0V201.0H144.0V200.8H146.0V189.6H148.0V187.9H150.0V186.0H152.0V188.4H154.0V192.6H156.0V191.4H158.0V197.4H160.0V206.5H162.0V207.7H164.0V221.5H166.0V226.5H168.0V230.2H170.0V233.2H172.0V237.3H174.0V239.4H176.0V240.4H178.0V241.1H180.0V241.2" fill="none" stroke="#222" stroke-width="1.0" stroke-opacity="1.0"/><path d="M277.0,240.3V239.9H278.6V238.4H280.2V233.3H281.8V227.7H283.4V215.6H285.0V206.7H286.6V192.4H288.2V179.8H289.8V167.5H291.4V166.0H293.0V161.2H294.6V165.8H296.2V171.8H297.8V186.5H299.4V189.0H301.0V190.0H302.6V201.1H304.2V207.8H305.8V212.6H307.4V218.2H309.0V217.2H310.6V223.4H312.2V225.0H313.8V228.6H315.4V227.3H317.0V232.3H318.6V233.0H320.2V233.3H321.8V234.5H323.4V236.7H325.0V235.4H326.6V237.9H328.2V237.0H329.8V239.0H331.4V239.7H333.0V240.0H334.6V240.5H336.2V240.4H337.8V240.4H339.4V240.3H340.0V240.3" fill="none" stroke="#3c9a48" stroke-width="1.1" stroke-opacity="1.0"/><path d="M277.0,240.3V239.9H278.6V237.9H280.2V232.5H281.8V225.1H283.4V216.6H285.0V204.2H286.6V191.7H288.2V180.1H289.8V166.3H291.4V166.6H293.0V164.9H294.6V168.5H296.2V173.1H297.8V187.0H299.4V187.0H301.0V190.2H302.6V198.9H304.2V208.4H305.8V211.8H307.4V219.0H309.0V219.4H310.6V222.1H312.2V225.7H313.8V225.9H315.4V230.0H317.0V230.1H318.6V231.0H320.2V233.4H321.8V234.7H323.4V235.4H325.0V236.6H326.6V238.0H328.2V237.6H329.8V238.8H331.4V239.3H333.0V240.0H334.6V240.5H336.2V240.4H337.8V240.4H339.4V240.3H340.0V240.3" fill="none" stroke="#626262" stroke-width="1.0" stroke-opacity="1.0" stroke-dasharray="3,1.2"/><path d="M275.0,240.3V240.1H277.0V238.7H279.0V235.9H281.0V233.8H283.0V231.9H285.0V229.9H287.0V223.9H289.0V220.8H291.0V214.5H293.0V213.3H295.0V207.8H297.0V207.3H299.0V203.9H301.0V195.9H303.0V187.7H305.0V187.7H307.0V185.4H309.0V188.2H311.0V192.5H313.0V192.3H315.0V205.1H317.0V208.7H319.0V213.9H321.0V219.6H323.0V225.7H325.0V230.3H327.0V233.5H329.0V237.4H331.0V238.5H333.0V239.9H335.0V240.5H337.0V240.4H339.0V240.3H340.0V240.3" fill="none" stroke="#222" stroke-width="1.0" stroke-opacity="1.0"/><path d="M438.0,241.5V240.3H439.6V238.7H441.2V234.2H442.8V227.1H444.4V217.0H446.0V207.9H447.6V194.3H449.2V185.5H450.8V176.0H452.4V170.4H454.0V165.5H455.6V173.5H457.2V182.2H458.8V187.0H460.4V193.3H462.0V198.0H463.6V201.8H465.2V206.2H466.8V209.1H468.4V211.6H470.0V214.5H471.6V220.0H473.2V218.8H474.8V223.9H476.4V223.1H478.0V225.2H479.6V227.7H481.2V229.7H482.8V231.9H484.4V233.6H486.0V235.3H487.6V236.7H489.2V238.0H490.8V238.8H492.4V239.6H494.0V239.9H495.6V240.8H497.2V240.5H498.8V241.3H500.0V241.5" fill="none" stroke="#cfcfcf" stroke-width="1.0" stroke-opacity="1.0" stroke-dasharray="2,1"/><path d="M438.0,241.5V240.9H439.6V239.4H441.2V235.1H442.8V230.0H444.4V223.1H446.0V214.4H447.6V202.7H449.2V194.5H450.8V187.0H452.4V182.1H454.0V176.7H455.6V180.3H457.2V187.1H458.8V192.6H460.4V195.1H462.0V201.4H463.6V204.1H465.2V209.4H466.8V211.8H468.4V214.7H470.0V217.6H471.6V219.6H473.2V220.5H474.8V223.0H476.4V225.8H478.0V226.9H479.6V228.6H481.2V231.6H482.8V233.6H484.4V235.2H486.0V237.0H487.6V238.1H489.2V238.3H490.8V238.9H492.4V239.9H494.0V240.7H495.6V240.6H497.2V241.0H498.8V241.4H500.0V241.5" fill="none" stroke="#e0262a" stroke-width="0.9" stroke-opacity="1.0"/><path d="M438.0,241.5V240.6H440.0V239.3H442.0V236.9H444.0V234.3H446.0V232.6H448.0V229.8H450.0V224.9H452.0V221.3H454.0V215.4H456.0V209.9H458.0V201.6H460.0V192.9H462.0V191.7H464.0V193.1H466.0V187.9H468.0V187.5H470.0V186.6H472.0V193.6H474.0V198.3H476.0V203.6H478.0V207.8H480.0V210.4H482.0V217.5H484.0V226.1H486.0V230.7H488.0V236.6H490.0V237.1H492.0V239.2H494.0V240.4H496.0V241.0H498.0V241.3H500.0V241.5" fill="none" stroke="#222" stroke-width="1.0" stroke-opacity="1.0"/><path d="M60.0,481.2V480.4H61.6V479.7H63.2V478.5H64.8V477.9H66.4V477.6H68.0V476.4H69.6V476.7H71.2V477.2H72.8V476.4H74.4V476.6H76.0V475.8H77.6V475.2H79.2V473.4H80.8V474.4H82.4V472.1H84.0V470.4H85.6V468.4H87.2V467.6H88.8V464.9H90.4V462.4H92.0V458.6H93.6V456.6H95.2V451.8H96.8V448.1H98.4V445.8H100.0V440.1H101.6V433.3H103.2V428.4H104.8V424.0H106.4V422.8H108.0V417.6H109.6V415.7H111.2V411.9H112.8V410.8H114.4V401.4H116.0V401.6H117.6V408.7H119.2V405.9H120.8V399.5H122.4V404.2H124.0V401.2H125.6V410.4H127.2V417.8H128.8V426.5H130.4V432.7H132.0V439.9H133.6V443.5H135.2V453.5H136.8V458.4H138.4V465.7H140.0V467.9H141.6V470.9H143.2V471.8H144.8V474.3H146.4V475.2H148.0V476.7H149.6V478.2H151.2V479.3H152.8V479.5H154.4V480.9H156.0V481.2" fill="none" stroke="#e8d42a" stroke-width="1.1" stroke-opacity="1.0"/><path d="M60.0,481.2V480.8H61.6V480.3H63.2V479.1H64.8V478.5H66.4V474.8H68.0V473.3H69.6V469.2H71.2V465.4H72.8V458.8H74.4V456.2H76.0V450.8H77.6V447.6H79.2V441.8H80.8V444.2H82.4V436.1H84.0V433.2H85.6V426.7H87.2V420.4H88.8V421.2H90.4V425.2H92.0V422.9H93.6V424.9H95.2V419.6H96.8V424.7H98.4V420.1H100.0V427.2H101.6V427.8H103.2V427.5H104.8V424.9H106.4V430.3H108.0V430.7H109.6V439.6H111.2V437.2H112.8V439.0H114.4V442.0H116.0V447.5H117.6V444.2H119.2V449.0H120.8V447.2H122.4V453.3H124.0V453.1H125.6V456.2H127.2V458.2H128.8V461.2H130.4V461.8H132.0V463.6H133.6V460.4H135.2V465.2H136.8V464.9H138.4V466.3H140.0V466.1H141.6V467.5H143.2V468.9H144.8V471.3H146.4V469.5H148.0V474.3H149.6V474.3H151.2V476.0H152.8V475.7H154.4V478.1H156.0V478.1H157.6V479.4H159.2V479.9H160.8V480.4H162.4V480.7H164.0V481.1H165.0V481.2" fill="none" stroke="#555555" stroke-width="1.4" stroke-opacity="1.0" stroke-dasharray="3,1.5"/><path d="M52.0,481.2V481.0H53.6V480.6H55.2V480.1H56.8V479.5H58.4V478.6H60.0V478.2H61.6V477.2H63.2V477.0H64.8V475.4H66.4V474.9H68.0V472.9H69.6V469.1H71.2V463.4H72.8V451.1H74.4V440.7H76.0V427.2H77.6V419.2H79.2V422.2H80.8V413.7H82.4V413.8H84.0V414.3H85.6V419.8H87.2V413.0H88.8V414.8H90.4V418.7H92.0V425.5H93.6V423.0H95.2V430.0H96.8V432.1H98.4V435.2H100.0V434.1H101.6V438.6H103.2V439.9H104.8V443.6H106.4V443.8H108.0V448.2H109.6V448.8H111.2V451.9H112.8V452.3H114.4V456.8H116.0V456.8H117.6V458.5H119.2V458.6H120.8V459.5H122.4V460.9H124.0V461.5H125.6V462.3H127.2V464.1H128.8V465.0H130.4V465.6H132.0V465.8H133.6V467.1H135.2V466.5H136.8V469.7H138.4V469.4H140.0V471.2H141.6V471.1H143.2V472.1H144.8V472.9H146.4V474.5H148.0V474.8H149.6V475.7H151.2V475.3H152.8V476.8H154.4V477.2H156.0V478.0H157.6V478.5H159.2V478.8H160.8V479.2H162.4V480.2H164.0V480.1H165.6V480.6H167.2V480.6H168.8V481.1H170.0V481.2" fill="none" stroke="#1a1a1a" stroke-width="1.0" stroke-opacity="1.0"/><path d="M215.0,480.4V480.2H216.6V479.9H218.2V479.4H219.8V479.2H221.4V478.0H223.0V476.8H224.6V474.3H226.2V472.7H227.8V471.4H229.4V469.8H231.0V467.8H232.6V467.9H234.2V466.2H235.8V464.8H237.4V462.7H239.0V462.5H240.6V459.4H242.2V458.3H243.8V455.7H245.4V455.8H247.0V448.8H248.6V448.3H250.2V443.3H251.8V441.5H253.4V440.5H255.0V438.5H256.6V436.2H258.2V433.6H259.8V430.5H261.4V426.0H263.0V423.4H264.6V423.1H266.2V416.2H267.8V416.6H269.4V413.1H271.0V412.1H272.6V404.3H274.2V398.7H275.8V401.5H277.4V409.3H279.0V408.1H280.6V415.1H282.2V420.9H283.8V428.2H285.4V428.6H287.0V437.8H288.6V443.0H290.2V450.6H291.8V455.4H293.4V459.2H295.0V460.8H296.6V465.7H298.2V467.2H299.8V468.9H301.4V469.3H303.0V471.5H304.6V471.3H306.2V473.4H307.8V474.5H309.4V475.9H311.0V476.7H312.6V478.4H314.2V479.2H315.8V479.8H317.4V480.3H318.0V480.4" fill="none" stroke="#3c9a48" stroke-width="1.1" stroke-opacity="1.0"/><path d="M222.0,480.4V479.6H223.6V478.8H225.2V474.9H226.8V475.5H228.4V469.0H230.0V461.9H231.6V454.1H233.2V448.7H234.8V444.3H236.4V440.3H238.0V433.5H239.6V431.0H241.2V421.7H242.8V425.7H244.4V418.9H246.0V421.2H247.6V415.9H249.2V421.2H250.8V414.1H252.4V419.7H254.0V418.2H255.6V424.0H257.2V422.5H258.8V425.9H260.4V417.4H262.0V425.6H263.6V426.7H265.2V430.5H266.8V430.1H268.4V438.7H270.0V438.9H271.6V440.2H273.2V441.1H274.8V443.4H276.4V445.4H278.0V444.0H279.6V442.9H281.2V447.4H282.8V446.3H284.4V450.3H286.0V454.0H287.6V456.7H289.2V456.5H290.8V459.2H292.4V462.4H294.0V464.4H295.6V462.8H297.2V466.2H298.8V467.3H300.4V472.3H302.0V471.5H303.6V472.9H305.2V473.4H306.8V475.0H308.4V474.7H310.0V477.9H311.6V478.1H313.2V479.1H314.8V478.6H316.4V479.9H318.0V480.0H319.6V480.3H320.0V480.4" fill="none" stroke="#555555" stroke-width="1.4" stroke-opacity="1.0" stroke-dasharray="3,1.5"/><path d="M209.0,480.4V480.2H210.6V479.7H212.2V479.4H213.8V479.4H215.4V478.5H217.0V478.4H218.6V477.1H220.2V476.6H221.8V475.0H223.4V474.2H225.0V467.2H226.6V460.2H228.2V448.7H229.8V439.0H231.4V425.9H233.0V422.4H234.6V416.9H236.2V419.1H237.8V415.9H239.4V415.7H241.0V415.9H242.6V418.8H244.2V414.6H245.8V416.0H247.4V419.0H249.0V422.9H250.6V424.4H252.2V425.2H253.8V426.8H255.4V430.4H257.0V428.3H258.6V433.3H260.2V436.9H261.8V442.9H263.4V443.3H265.0V447.2H266.6V447.7H268.2V452.0H269.8V451.5H271.4V453.3H273.0V455.4H274.6V456.1H276.2V455.7H277.8V458.3H279.4V458.0H281.0V460.1H282.6V460.4H284.2V463.0H285.8V462.2H287.4V464.2H289.0V464.6H290.6V466.2H292.2V466.4H293.8V467.2H295.4V467.2H297.0V469.0H298.6V470.0H300.2V470.4H301.8V471.3H303.4V471.9H305.0V472.3H306.6V474.2H308.2V473.7H309.8V475.2H311.4V475.9H313.0V476.7H314.6V477.8H316.2V478.8H317.8V479.0H319.4V479.4H321.0V479.5H322.6V480.2H324.2V480.3H325.0V480.4" fill="none" stroke="#1a1a1a" stroke-width="1.0" stroke-opacity="1.0"/><path d="M380.0,482.3V480.9H381.6V479.2H383.2V475.1H384.8V472.6H386.4V469.2H388.0V463.2H389.6V455.2H391.2V450.8H392.8V445.4H394.4V441.9H396.0V433.8H397.6V435.6H399.2V426.3H400.8V433.9H402.4V429.0H404.0V433.1H405.6V423.3H407.2V423.5H408.8V421.3H410.4V421.8H412.0V415.3H413.6V419.9H415.2V410.0H416.8V416.9H418.4V412.0H420.0V420.8H421.6V413.7H423.2V411.0H424.8V413.2H426.4V420.4H428.0V423.5H429.6V432.8H431.2V426.3H432.8V438.1H434.4V435.2H436.0V439.9H437.6V441.0H439.2V447.9H440.8V446.5H442.4V450.3H444.0V448.5H445.6V454.8H447.2V455.7H448.8V463.3H450.4V459.0H452.0V466.5H453.6V466.9H455.2V469.4H456.8V472.0H458.4V473.5H460.0V473.9H461.6V476.7H463.2V478.2H464.8V479.1H466.4V479.4H468.0V482.2H469.6V482.2H470.0V482.3" fill="none" stroke="#c2c2c2" stroke-width="1.7" stroke-opacity="1.0" stroke-dasharray="3,1.5"/><path d="M372.0,482.3V482.0H373.6V481.4H375.2V480.9H376.8V480.2H378.4V479.4H380.0V479.4H381.6V477.2H383.2V477.4H384.8V475.8H386.4V475.6H388.0V474.2H389.6V474.9H391.2V470.8H392.8V470.9H394.4V469.1H396.0V470.0H397.6V467.1H399.2V465.7H400.8V462.1H402.4V461.9H404.0V458.6H405.6V456.1H407.2V452.2H408.8V449.9H410.4V447.7H412.0V445.8H413.6V439.4H415.2V438.1H416.8V432.2H418.4V433.4H420.0V428.7H421.6V428.1H423.2V424.3H424.8V424.5H426.4V417.0H428.0V417.0H429.6V412.5H431.2V412.0H432.8V409.7H434.4V409.7H436.0V407.8H437.6V410.0H439.2V408.5H440.8V414.4H442.4V421.8H444.0V425.6H445.6V424.8H447.2V433.3H448.8V435.1H450.4V443.7H452.0V447.0H453.6V451.8H455.2V456.1H456.8V462.2H458.4V463.4H460.0V467.1H461.6V467.0H463.2V470.4H464.8V470.4H466.4V472.9H468.0V474.0H469.6V476.0H471.2V477.1H472.8V478.3H474.4V480.1H476.0V482.0H477.0V482.3" fill="none" stroke="#e0262a" stroke-width="1.1" stroke-opacity="1.0"/><path d="M369.0,482.3V481.9H370.6V481.0H372.2V479.7H373.8V479.3H375.4V478.5H377.0V478.3H378.6V477.1H380.2V476.7H381.8V474.8H383.4V474.3H385.0V467.0H386.6V460.4H388.2V450.8H389.8V442.5H391.4V431.6H393.0V425.8H394.6V420.3H396.2V417.6H397.8V414.8H399.4V411.7H401.0V414.7H402.6V416.8H404.2V414.1H405.8V418.4H407.4V420.0H409.0V427.5H410.6V427.2H412.2V429.5H413.8V430.2H415.4V435.0H417.0V435.1H418.6V439.7H420.2V441.6H421.8V444.3H423.4V446.3H425.0V448.6H426.6V448.8H428.2V452.0H429.8V450.5H431.4V455.0H433.0V455.5H434.6V455.3H436.2V454.2H437.8V458.4H439.4V458.0H441.0V459.9H442.6V460.0H444.2V461.8H445.8V462.7H447.4V463.9H449.0V465.0H450.6V465.2H452.2V465.0H453.8V466.9H455.4V466.8H457.0V470.6H458.6V469.2H460.2V471.3H461.8V472.1H463.4V473.1H465.0V473.4H466.6V475.2H468.2V474.6H469.8V477.4H471.4V477.4H473.0V478.6H474.6V478.9H476.2V481.1H477.8V481.2H479.4V482.1H480.0V482.3" fill="none" stroke="#1a1a1a" stroke-width="1.0" stroke-opacity="1.0"/><path d="M138.0,600.2V599.9H139.6V599.4H141.2V598.7H142.8V599.0H144.4V597.7H146.0V597.4H147.6V597.0H149.2V597.0H150.8V595.9H152.4V595.1H154.0V594.1H155.6V593.4H157.2V592.5H158.8V591.3H160.4V588.3H162.0V587.3H163.6V583.6H165.2V581.0H166.8V577.0H168.4V573.0H170.0V569.2H171.6V563.2H173.2V556.7H174.8V551.3H176.4V544.9H178.0V542.0H179.6V534.0H181.2V528.0H182.8V524.2H184.4V536.2H186.0V542.9H187.6V557.8H189.2V570.1H190.8V581.8H192.4V594.1H194.0V600.2" fill="none" stroke="#e8d42a" stroke-width="1.1" stroke-opacity="1.0"/><path d="M120.0,600.2V599.9H121.6V599.5H123.2V598.9H124.8V599.0H126.4V598.1H128.0V598.2H129.6V597.5H131.2V597.4H132.8V597.1H134.4V596.9H136.0V594.5H137.6V593.5H139.2V592.1H140.8V590.2H142.4V588.6H144.0V588.8H145.6V587.3H147.2V587.1H148.8V584.1H150.4V583.5H152.0V581.9H153.6V583.0H155.2V581.1H156.8V581.9H158.4V579.4H160.0V579.5H161.6V575.6H163.2V575.0H164.8V572.5H166.4V572.1H168.0V567.8H169.6V568.6H171.2V562.3H172.8V562.8H174.4V558.3H176.0V559.4H177.6V556.3H179.2V555.5H180.8V553.2H182.4V558.9H184.0V559.0H185.6V566.8H187.2V571.5H188.8V577.8H190.4V581.5H192.0V588.7H193.6V598.1H194.0V600.2" fill="none" stroke="#8a8a8a" stroke-width="1.1" stroke-opacity="1.0"/><path d="M110.0,600.2V599.9H111.6V599.7H113.2V598.8H114.8V598.8H116.4V598.0H118.0V598.4H119.6V597.8H121.2V597.6H122.8V596.8H124.4V596.5H126.0V595.9H127.6V594.6H129.2V592.1H130.8V591.7H132.4V589.3H134.0V588.3H135.6V585.6H137.2V585.0H138.8V582.7H140.4V582.4H142.0V579.8H143.6V579.1H145.2V577.4H146.8V577.0H148.4V574.0H150.0V574.5H151.6V575.3H153.2V574.9H154.8V574.6H156.4V576.6H158.0V576.0H159.6V574.8H161.2V574.2H162.8V575.4H164.4V573.8H166.0V575.2H167.6V574.2H169.2V575.2H170.8V575.7H172.4V576.1H174.0V572.7H175.6V573.9H177.2V573.9H178.8V575.2H180.4V575.3H182.0V576.8H183.6V576.4H185.2V578.5H186.8V579.3H188.4V582.2H190.0V583.8H191.6V588.8H193.2V596.6H194.0V600.2" fill="none" stroke="#1a1a1a" stroke-width="1.0" stroke-opacity="1.0"/><path d="M295.0,600.8V600.3H296.6V599.6H298.2V599.0H299.8V598.7H301.4V597.8H303.0V598.3H304.6V597.5H306.2V597.7H307.8V596.5H309.4V597.0H311.0V595.8H312.6V595.6H314.2V594.6H315.8V595.1H317.4V593.9H319.0V594.5H320.6V591.3H322.2V588.9H323.8V585.9H325.4V583.5H327.0V579.0H328.6V575.5H330.2V569.6H331.8V563.9H333.4V556.4H335.0V547.6H336.6V538.0H338.2V530.8H339.8V519.2H341.4V520.4H343.0V524.3H344.6V542.5H346.2V552.2H347.8V567.4H349.4V585.4H351.0V598.4H351.4V600.8" fill="none" stroke="#3c9a48" stroke-width="1.1" stroke-opacity="1.0"/><path d="M285.0,600.8V600.2H286.6V599.9H288.2V598.6H289.8V598.0H291.4V597.3H293.0V596.2H294.6V595.1H296.2V594.9H297.8V592.7H299.4V592.3H301.0V590.5H302.6V588.7H304.2V586.0H305.8V586.4H307.4V584.3H309.0V584.8H310.6V582.0H312.2V581.2H313.8V578.4H315.4V578.9H317.0V575.7H318.6V575.5H320.2V574.3H321.8V573.5H323.4V569.4H325.0V570.2H326.6V566.5H328.2V564.3H329.8V563.3H331.4V561.0H333.0V559.4H334.6V559.1H336.2V554.3H337.8V553.4H339.4V556.3H341.0V558.5H342.6V562.7H344.2V569.9H345.8V573.7H347.4V582.1H349.0V592.9H350.6V600.1H350.8V600.8" fill="none" stroke="#7a6f86" stroke-width="1.5" stroke-opacity="1.0" stroke-dasharray="3,1.5"/><path d="M268.0,600.8V600.6H269.6V600.4H271.2V599.5H272.8V599.2H274.4V598.3H276.0V598.1H277.6V597.2H279.2V597.7H280.8V595.4H282.4V595.3H284.0V594.4H285.6V593.1H287.2V591.2H288.8V589.9H290.4V588.2H292.0V585.9H293.6V585.0H295.2V584.0H296.8V581.2H298.4V580.1H300.0V580.6H301.6V579.4H303.2V576.3H304.8V577.1H306.4V575.2H308.0V577.2H309.6V575.8H311.2V576.4H312.8V576.1H314.4V577.1H316.0V576.2H317.6V578.3H319.2V577.9H320.8V578.8H322.4V576.9H324.0V578.3H325.6V574.2H327.2V576.6H328.8V575.6H330.4V575.6H332.0V574.6H333.6V575.7H335.2V574.7H336.8V575.3H338.4V573.9H340.0V577.2H341.6V576.2H343.2V577.9H344.8V579.5H346.4V584.3H348.0V590.1H349.6V598.3H350.8V600.8" fill="none" stroke="#1a1a1a" stroke-width="1.0" stroke-opacity="1.0"/><path d="M448.0,599.9V599.7H449.6V599.7H451.2V599.0H452.8V597.4H454.4V596.5H456.0V594.7H457.6V592.3H459.2V592.9H460.8V589.5H462.4V590.4H464.0V586.7H465.6V586.7H467.2V583.0H468.8V586.1H470.4V581.7H472.0V583.6H473.6V580.6H475.2V579.5H476.8V579.6H478.4V579.5H480.0V574.9H481.6V576.7H483.2V574.1H484.8V572.9H486.4V568.8H488.0V569.6H489.6V561.3H491.2V560.5H492.8V555.5H494.4V554.5H496.0V550.9H497.6V549.9H499.2V544.0H500.8V547.0H502.4V552.2H504.0V561.1H505.6V569.2H507.2V590.3H508.8V598.9H509.0V599.9" fill="none" stroke="#c8c8c8" stroke-width="1.6" stroke-opacity="1.0" stroke-dasharray="3,1.5"/><path d="M455.0,599.9V599.7H456.6V599.2H458.2V598.7H459.8V598.5H461.4V598.3H463.0V597.7H464.6V596.6H466.2V596.5H467.8V596.3H469.4V596.1H471.0V594.9H472.6V595.6H474.2V594.0H475.8V593.5H477.4V590.9H479.0V589.9H480.6V588.7H482.2V588.0H483.8V584.8H485.4V583.0H487.0V578.6H488.6V575.6H490.2V571.4H491.8V564.4H493.4V557.3H495.0V553.8H496.6V544.6H498.2V535.0H499.8V518.4H501.4V519.6H503.0V528.7H504.6V543.9H506.2V558.4H507.8V574.1H509.4V593.2H510.0V599.9" fill="none" stroke="#e0262a" stroke-width="1.1" stroke-opacity="1.0"/><path d="M430.0,599.9V599.8H431.6V599.7H433.2V599.3H434.8V599.2H436.4V598.8H438.0V598.3H439.6V597.1H441.2V596.3H442.8V594.9H444.4V594.5H446.0V592.0H447.6V590.7H449.2V588.6H450.8V587.1H452.4V584.2H454.0V582.9H455.6V580.2H457.2V579.0H458.8V576.8H460.4V577.2H462.0V576.5H463.6V576.5H465.2V574.9H466.8V577.2H468.4V576.3H470.0V578.2H471.6V575.5H473.2V575.9H474.8V574.8H476.4V576.9H478.0V574.1H479.6V575.7H481.2V576.4H482.8V576.7H484.4V575.8H486.0V574.2H487.6V573.7H489.2V574.8H490.8V574.8H492.4V575.5H494.0V573.5H495.6V575.5H497.2V574.1H498.8V575.9H500.4V574.5H502.0V577.8H503.6V580.0H505.2V583.0H506.8V586.8H508.4V595.9H510.0V599.9" fill="none" stroke="#1a1a1a" stroke-width="1.0" stroke-opacity="1.0"/><defs><pattern id="pg" width="3" height="3" patternUnits="userSpaceOnUse"><rect width="3" height="3" fill="#97a297"/><rect width="1" height="1" fill="#5f7a5f"/><rect x="1" y="1" width="1" height="1" fill="#7f927f"/><rect x="2" y="2" width="1" height="1" fill="#c9d5c9"/><rect x="2" y="0" width="1" height="1" fill="#d8e0d8"/></pattern><pattern id="pr" width="3" height="3" patternUnits="userSpaceOnUse"><rect width="3" height="3" fill="#f4e9ea"/><rect width="1" height="1" fill="#e47a88"/><rect x="1" y="1" width="1" height="1" fill="#eeaab4"/><rect x="2" y="2" width="1" height="1" fill="#ffffff"/></pattern></defs><g fill="#b4b4bc" stroke="#8c8c8c" stroke-width="0.45"><rect x="124.40" y="331.1" width="2.04" height="32.1"/><rect x="126.44" y="313.3" width="2.04" height="49.9"/><rect x="128.49" y="305.0" width="2.04" height="58.2"/><rect x="130.53" y="296.3" width="2.04" height="66.9"/><rect x="132.57" y="295.7" width="2.04" height="67.5"/><rect x="134.62" y="300.3" width="2.04" height="62.9"/><rect x="136.66" y="305.4" width="2.04" height="57.8"/><rect x="138.70" y="313.6" width="2.04" height="49.6"/><rect x="140.75" y="323.4" width="2.04" height="39.8"/><rect x="142.79" y="332.5" width="2.04" height="30.7"/><rect x="144.83" y="342.3" width="2.04" height="20.9"/><rect x="146.88" y="349.6" width="2.04" height="13.6"/><rect x="148.92" y="356.8" width="2.04" height="6.4"/><rect x="150.96" y="359.6" width="2.04" height="3.6"/><rect x="153.01" y="361.6" width="2.04" height="1.6"/><rect x="155.05" y="362.7" width="2.04" height="0.5"/></g><g fill="#c6c6d0" stroke="#8c8c8c" stroke-width="0.45"><rect x="108.05" y="358.8" width="2.04" height="4.4"/><rect x="110.10" y="345.5" width="2.04" height="17.7"/><rect x="112.14" y="325.8" width="2.04" height="37.4"/><rect x="114.18" y="305.9" width="2.04" height="57.3"/><rect x="116.23" y="290.8" width="2.04" height="72.4"/><rect x="118.27" y="281.9" width="2.04" height="81.3"/><rect x="120.31" y="285.2" width="2.04" height="78.0"/><rect x="122.36" y="295.6" width="2.04" height="67.6"/><rect x="124.40" y="302.5" width="2.04" height="60.7"/><rect x="126.44" y="301.7" width="2.04" height="61.5"/><rect x="128.49" y="300.3" width="2.04" height="62.9"/><rect x="130.53" y="298.1" width="2.04" height="65.1"/><rect x="132.57" y="299.6" width="2.04" height="63.6"/><rect x="134.62" y="304.7" width="2.04" height="58.5"/><rect x="136.66" y="310.1" width="2.04" height="53.1"/><rect x="138.70" y="318.6" width="2.04" height="44.6"/><rect x="140.75" y="327.4" width="2.04" height="35.8"/><rect x="142.79" y="336.0" width="2.04" height="27.2"/><rect x="144.83" y="344.7" width="2.04" height="18.5"/><rect x="146.88" y="351.8" width="2.04" height="11.4"/><rect x="148.92" y="356.9" width="2.04" height="6.3"/><rect x="150.96" y="359.0" width="2.04" height="4.2"/><rect x="153.01" y="361.0" width="2.04" height="2.2"/><rect x="155.05" y="362.1" width="2.04" height="1.1"/></g><g fill="#585858" stroke="#555" stroke-width="0.3"><rect x="125.42" y="331.1" width="1.02" height="32.1" fill="#b4b4bc"/><rect x="127.46" y="313.3" width="1.02" height="49.9" fill="#6a6a6a"/><rect x="129.51" y="305.0" width="1.02" height="58.2" fill="#c0c0c8"/><rect x="131.55" y="296.3" width="1.02" height="66.9" fill="#3c3c3c"/><rect x="133.59" y="295.7" width="1.02" height="67.5" fill="#b4b4bc"/><rect x="135.64" y="300.3" width="1.02" height="62.9" fill="#6a6a6a"/><rect x="137.68" y="305.4" width="1.02" height="57.8" fill="#c0c0c8"/><rect x="139.72" y="313.6" width="1.02" height="49.6" fill="#3c3c3c"/><rect x="141.77" y="323.4" width="1.02" height="39.8" fill="#b4b4bc"/><rect x="143.81" y="332.5" width="1.02" height="30.7" fill="#6a6a6a"/><rect x="145.85" y="342.3" width="1.02" height="20.9" fill="#c0c0c8"/><rect x="147.90" y="349.6" width="1.02" height="13.6" fill="#3c3c3c"/><rect x="149.94" y="356.8" width="1.02" height="6.4" fill="#b4b4bc"/><rect x="151.98" y="359.6" width="1.02" height="3.6" fill="#6a6a6a"/><rect x="154.03" y="361.6" width="1.02" height="1.6" fill="#c0c0c8"/><rect x="156.07" y="362.7" width="1.02" height="0.5" fill="#3c3c3c"/></g><g fill="#e6e08a"><rect x="108.05" y="359.1" width="1.02" height="1.0"/><rect x="110.10" y="349.7" width="1.02" height="1.0"/><rect x="112.14" y="336.2" width="1.02" height="1.0"/><rect x="114.18" y="313.0" width="1.02" height="1.0"/><rect x="116.23" y="293.2" width="1.02" height="1.0"/><rect x="118.27" y="296.9" width="1.02" height="1.0"/><rect x="120.31" y="301.0" width="1.02" height="1.0"/><rect x="122.36" y="307.1" width="1.02" height="1.0"/><rect x="124.40" y="313.3" width="1.02" height="1.0"/><rect x="126.44" y="317.9" width="1.02" height="1.0"/><rect x="128.49" y="321.8" width="1.02" height="1.0"/><rect x="130.53" y="327.7" width="1.02" height="1.0"/><rect x="132.57" y="334.1" width="1.02" height="1.0"/><rect x="134.62" y="339.6" width="1.02" height="1.0"/><rect x="136.66" y="344.0" width="1.02" height="1.0"/><rect x="138.70" y="348.0" width="1.02" height="1.0"/><rect x="140.75" y="352.0" width="1.02" height="1.0"/><rect x="142.79" y="354.8" width="1.02" height="1.0"/><rect x="144.83" y="357.3" width="1.02" height="1.0"/><rect x="146.88" y="359.9" width="1.02" height="1.0"/><rect x="148.92" y="361.0" width="1.02" height="1.0"/></g><g fill="#4e4e4e" stroke="#2a2a2a" stroke-width="0.35"><rect x="281.63" y="343.0" width="2.07" height="18.9" fill="#5a5a5a"/><rect x="283.70" y="302.8" width="2.07" height="59.1" fill="#f4f4f4"/><rect x="285.77" y="297.2" width="2.07" height="64.7" fill="#3e3e3e"/><rect x="287.83" y="294.2" width="2.07" height="67.7" fill="#909090"/><rect x="289.90" y="297.9" width="2.07" height="64.0" fill="#5a5a5a"/><rect x="291.97" y="302.0" width="2.07" height="59.9" fill="#f4f4f4"/><rect x="294.04" y="309.4" width="2.07" height="52.5" fill="#3e3e3e"/><rect x="296.11" y="320.6" width="2.07" height="41.3" fill="#909090"/><rect x="298.18" y="328.8" width="2.07" height="33.1" fill="#5a5a5a"/><rect x="300.24" y="337.1" width="2.07" height="24.8" fill="#f4f4f4"/><rect x="302.31" y="346.7" width="2.07" height="15.2" fill="#3e3e3e"/><rect x="304.38" y="355.0" width="2.07" height="6.9" fill="#909090"/><rect x="306.45" y="358.5" width="2.07" height="3.4" fill="#5a5a5a"/><rect x="308.52" y="360.6" width="2.07" height="1.3" fill="#f4f4f4"/><rect x="310.59" y="361.4" width="2.07" height="0.5" fill="#3e3e3e"/></g><g fill="url(#pg)" stroke="#4f5f4f" stroke-width="0.5"><rect x="265.08" y="354.6" width="2.07" height="7.3"/><rect x="267.15" y="336.0" width="2.07" height="25.9"/><rect x="269.22" y="313.5" width="2.07" height="48.4"/><rect x="271.29" y="297.1" width="2.07" height="64.8"/><rect x="273.36" y="276.0" width="2.07" height="85.9"/><rect x="275.42" y="276.0" width="2.07" height="85.9"/><rect x="277.49" y="276.2" width="2.07" height="85.7"/><rect x="279.56" y="290.0" width="2.07" height="71.9"/><rect x="281.63" y="300.0" width="2.07" height="61.9"/><rect x="283.70" y="308.2" width="2.07" height="53.7"/><rect x="285.77" y="316.0" width="2.07" height="45.9"/><rect x="287.83" y="329.8" width="2.07" height="32.1"/><rect x="289.90" y="342.5" width="2.07" height="19.4"/><rect x="291.97" y="348.0" width="2.07" height="13.9"/><rect x="294.04" y="352.8" width="2.07" height="9.1"/><rect x="296.11" y="356.4" width="2.07" height="5.5"/><rect x="298.18" y="359.0" width="2.07" height="2.9"/><rect x="300.24" y="360.6" width="2.07" height="1.3"/></g><g fill="#4e4e4e" stroke="#2a2a2a" stroke-width="0.35"><rect x="442.57" y="347.8" width="2.10" height="13.5" fill="#5a5a5a"/><rect x="444.67" y="313.2" width="2.10" height="48.1" fill="#a8a8a8"/><rect x="446.78" y="301.3" width="2.10" height="60.0" fill="#3e3e3e"/><rect x="448.88" y="295.1" width="2.10" height="66.2" fill="#8a8a8a"/><rect x="450.99" y="296.6" width="2.10" height="64.7" fill="#5a5a5a"/><rect x="453.09" y="304.6" width="2.10" height="56.7" fill="#a8a8a8"/><rect x="455.20" y="315.5" width="2.10" height="45.8" fill="#3e3e3e"/><rect x="457.30" y="325.4" width="2.10" height="35.9" fill="#8a8a8a"/><rect x="459.41" y="333.8" width="2.10" height="27.5" fill="#5a5a5a"/><rect x="461.51" y="342.8" width="2.10" height="18.5" fill="#a8a8a8"/><rect x="463.62" y="351.3" width="2.10" height="10.0" fill="#3e3e3e"/><rect x="465.72" y="355.4" width="2.10" height="5.9" fill="#8a8a8a"/><rect x="467.83" y="358.4" width="2.10" height="2.9" fill="#5a5a5a"/><rect x="469.93" y="360.3" width="2.10" height="1.0" fill="#a8a8a8"/></g><g fill="url(#pr)" stroke="#eda0a8" stroke-width="0.35"><rect x="425.73" y="351.6" width="2.10" height="9.7"/><rect x="427.84" y="336.3" width="2.10" height="25.0"/><rect x="429.94" y="313.4" width="2.10" height="47.9"/><rect x="432.05" y="299.7" width="2.10" height="61.6"/><rect x="434.15" y="292.2" width="2.10" height="69.1"/><rect x="436.26" y="286.2" width="2.10" height="75.1"/><rect x="438.36" y="292.8" width="2.10" height="68.5"/><rect x="440.47" y="295.1" width="2.10" height="66.2"/><rect x="442.57" y="303.5" width="2.10" height="57.8"/><rect x="444.67" y="312.5" width="2.10" height="48.8"/><rect x="446.78" y="319.4" width="2.10" height="41.9"/><rect x="448.88" y="322.9" width="2.10" height="38.4"/><rect x="450.99" y="333.2" width="2.10" height="28.1"/><rect x="453.09" y="340.7" width="2.10" height="20.6"/><rect x="455.20" y="345.6" width="2.10" height="15.7"/><rect x="457.30" y="350.5" width="2.10" height="10.8"/><rect x="459.41" y="354.2" width="2.10" height="7.1"/><rect x="461.51" y="357.3" width="2.10" height="4.0"/><rect x="463.62" y="359.3" width="2.10" height="2.0"/></g><rect x="437.2" y="273.2" width="1.6" height="88.1" fill="#d8d8d8" stroke="#bbb" stroke-width="0.3"/><rect x="439.2" y="292.7" width="1.9" height="9" fill="#e2505a" stroke="#d33" stroke-width="0.3"/><line x1="48.3" y1="363.2" x2="195.8" y2="363.2" stroke="#333" stroke-width="1.5"/><line x1="204.6" y1="361.9" x2="353.9" y2="361.9" stroke="#333" stroke-width="1.5"/><line x1="364.2" y1="361.3" x2="516.1" y2="361.3" stroke="#333" stroke-width="1.5"/><text x="41.4" y="13.8" style="font-family:'Liberation Sans',sans-serif;font-weight:bold;font-size:12.9px" fill="#000">LPC</text><text x="198.3" y="14.3" text-anchor="end" style="font-family:'Liberation Sans',sans-serif;font-weight:bold;font-size:12.9px" fill="#000">4µM</text><text x="326" y="14.3" style="font-family:'Liberation Sans',sans-serif;font-weight:bold;font-size:12.9px" fill="#000">6µM</text><text x="474.2" y="14.3" style="font-family:'Liberation Sans',sans-serif;font-weight:bold;font-size:12.9px" fill="#000">8.5µM</text><text x="1.2" y="22.0" class="rl">A</text><text x="1.2" y="144.0" class="rl">B</text><text x="1.2" y="266.3" class="rl">C</text><text x="1.2" y="386.3" class="rl">D</text><text x="1.2" y="505.5" class="rl">E</text><text transform="translate(32.9,121.3) rotate(-90)" class="yl">Normalized Frequency</text><text transform="translate(34.8,242.6) rotate(-90)" class="yl">Normalized Frequency</text><text transform="translate(34.5,363.6) rotate(-90)" class="yl">Normalized Frequency</text><text transform="translate(32.9,482.9) rotate(-90)" class="yl">Normalized Frequency</text><text transform="translate(32.9,602.5) rotate(-90)" class="yl">Normalized Frequency</text><path d="M64.10,22.10 h2.1 V30.70 h-2.1 V24.80 L61.80,26.10 V24.40 Z" fill="#000"/><path d="M61.60,142.70 h2.1 V151.30 h-2.1 V145.40 L59.30,146.70 V145.00 Z" fill="#000"/><path d="M63.90,265.60 h2.1 V274.20 h-2.1 V268.30 L61.60,269.60 V267.90 Z" fill="#000"/><path d="M63.30,383.00 h2.1 V391.60 h-2.1 V385.70 L61.00,387.00 V385.30 Z" fill="#000"/><path d="M61.00,502.20 h2.1 V510.80 h-2.1 V504.90 L58.70,506.20 V504.50 Z" fill="#000"/><text transform="translate(216.07,30.39) scale(0.86,1)" class="pn" style="font-size:12.6px">2</text><text transform="translate(215.67,150.89) scale(0.86,1)" class="pn" style="font-size:12.6px">2</text><text transform="translate(216.97,272.29) scale(0.86,1)" class="pn" style="font-size:12.6px">2</text><text transform="translate(215.67,391.39) scale(0.86,1)" class="pn" style="font-size:12.6px">2</text><text transform="translate(215.47,511.19) scale(0.86,1)" class="pn" style="font-size:12.6px">2</text><text transform="translate(375.07,30.09) scale(0.86,1)" class="pn" style="font-size:12.6px">3</text><text transform="translate(376.77,153.69) scale(0.86,1)" class="pn" style="font-size:12.6px">3</text><text transform="translate(375.87,270.39) scale(0.86,1)" class="pn" style="font-size:12.6px">3</text><text transform="translate(373.17,391.79) scale(0.86,1)" class="pn" style="font-size:12.6px">3</text><text transform="translate(375.87,510.59) scale(0.86,1)" class="pn" style="font-size:12.6px">3</text><text x="109.6" y="40.2" class="lab" fill="#a8a8a8" font-weight="normal" textLength="83.6" lengthAdjust="spacingAndGlyphs">RBC/PKH67-26/LPC(4µM)/T40</text><text x="113.0" y="55.8" class="lab" fill="#e6cf1c" font-weight="bold" textLength="80.3" lengthAdjust="spacingAndGlyphs">RBC/PKH67-26/LPC(4µM)/T0</text><text x="157.7" y="82.6" class="lab" fill="#000" font-weight="bold" textLength="35.6" lengthAdjust="spacingAndGlyphs">RBC control</text><line x1="111.5" y1="43.5" x2="104.5" y2="51.5" stroke="#b0b0b0" stroke-width="0.7"/><line x1="156.5" y1="58.5" x2="126" y2="85" stroke="#e6d030" stroke-width="0.7"/><line x1="169" y1="85" x2="144.6" y2="104.5" stroke="#111" stroke-width="0.8"/><text x="277.0" y="40.2" class="lab" fill="#8e8e8e" font-weight="normal" textLength="73.8" lengthAdjust="spacingAndGlyphs">RBC/PKH67LPC(6µM)/T40</text><text x="281.0" y="59.2" class="lab" fill="#2ea862" font-weight="bold" textLength="69.0" lengthAdjust="spacingAndGlyphs">RBC/PKH67LPC(6µM)/T0</text><text x="315.4" y="82.6" class="lab" fill="#000" font-weight="bold" textLength="34.6" lengthAdjust="spacingAndGlyphs">RBC control</text><line x1="286.5" y1="43.5" x2="268" y2="63.5" stroke="#999" stroke-width="0.7"/><line x1="321" y1="61" x2="279.6" y2="94.2" stroke="#2ea862" stroke-width="0.7"/><line x1="322.6" y1="85.5" x2="303" y2="107.5" stroke="#111" stroke-width="0.8"/><text x="431.3" y="38.0" class="lab" fill="#dcdcdc" font-weight="normal" textLength="77.9" lengthAdjust="spacingAndGlyphs">RBC/PKH67LPC(8.5µM)/T40</text><text x="435.2" y="55.7" class="lab" fill="#e0262a" font-weight="bold" textLength="74.4" lengthAdjust="spacingAndGlyphs">RBC/PKH67LPC(8.5µM)/T0</text><text x="473.7" y="78.2" class="lab" fill="#000" font-weight="bold" textLength="35.5" lengthAdjust="spacingAndGlyphs">RBC control</text><line x1="446.7" y1="40.5" x2="421" y2="62" stroke="#dddddd" stroke-width="0.7"/><line x1="468.8" y1="58" x2="438.8" y2="92" stroke="#e0262a" stroke-width="0.8"/><line x1="481.4" y1="81.5" x2="461" y2="104.3" stroke="#111" stroke-width="0.8"/></svg></body></html>
